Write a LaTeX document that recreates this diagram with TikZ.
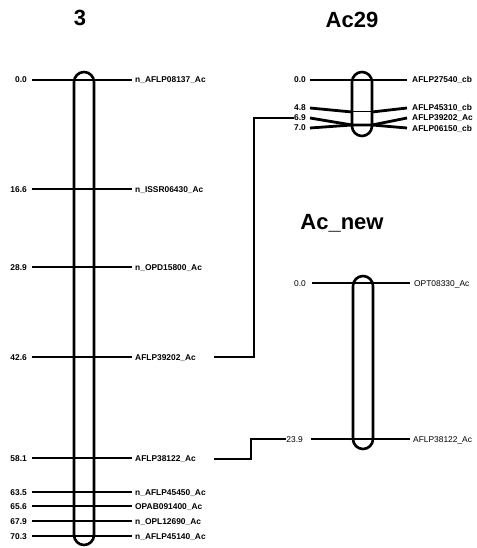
\documentclass[tikz,border=0pt]{standalone}
\usepackage{fontspec}
\setmainfont{Liberation Sans}
\usetikzlibrary{calc}
\begin{document}
\begin{tikzpicture}[x=1pt,y=-1pt,
  chrom/.style={line width=2.6pt,rounded corners=10pt},
  mline/.style={line width=2.8pt},
  conn/.style={line width=2.1pt},
  lbl/.style={inner sep=0pt,text height=6pt,text depth=0pt,font=\fontsize{8.4}{9}\selectfont\bfseries},
  lbln/.style={inner sep=0pt,text height=6pt,text depth=0pt,font=\fontsize{8.4}{9}\selectfont},
  poslbl/.style={lbl,anchor=east},
  mklbl/.style={lbl,anchor=west},
  poslbln/.style={lbln,anchor=east},
  mklbln/.style={lbln,anchor=west},
  ttl/.style={inner sep=0pt,text height=15.8pt,text depth=0pt,font=\fontsize{22}{24}\selectfont\bfseries}]
\useasboundingbox (0,0) rectangle (476,548);

% titles
\node[ttl] (t3) at (80,18) {3};
\node[ttl] (t29) at (352,20) {Ac29};
\node[ttl] (tnew) at (342,222) {Ac\_new};

% ---------------- chromosome 3 ----------------
\draw[chrom] (74,72) rectangle (94,545);
\foreach \n/\y/\p/\m in {a/80/0.0/n\_AFLP08137\_Ac, b/189/16.6/n\_ISSR06430\_Ac, c/267/28.9/n\_OPD15800\_Ac, d/357/42.6/AFLP39202\_Ac, e/458/58.1/AFLP38122\_Ac, f/492/63.5/n\_AFLP45450\_Ac, g/506/65.6/OPAB091400\_Ac, h/521/67.9/n\_OPL12690\_Ac, i/536/70.3/n\_AFLP45140\_Ac}{
  \node[poslbl] (p3\n) at (27,\y) {\p};
  \node[mklbl] (m3\n) at (135,\y) {\m};
  \coordinate (l3\n) at (32,\y);
  \coordinate (r3\n) at (132,\y);
  \draw[mline] (l3\n) -- (r3\n);
}

% ---------------- Ac29 ----------------
\draw[chrom] (352,72) rectangle (372,136);
\node[poslbl] (pA0) at (306,80) {0.0};
\node[poslbl] (pA1) at (306,108) {4.8};
\node[poslbl] (pA2) at (306,118) {6.9};
\node[poslbl] (pA3) at (306,128) {7.0};
\node[mklbl] (mA0) at (412,80) {AFLP27540\_cb};
\node[mklbl] (mA1) at (412,108) {AFLP45310\_cb};
\node[mklbl] (mA2) at (412,118) {AFLP39202\_Ac};
\node[mklbl] (mA3) at (412,129) {AFLP06150\_cb};
\coordinate (aL0) at (310,80);  \coordinate (aR0) at (407,80);
\coordinate (aL1) at (310,108); \coordinate (aR1) at (407,108);
\coordinate (aL2) at (310,118); \coordinate (aR2) at (407,118);
\coordinate (aL3) at (310,128); \coordinate (aR3) at (407,128);
\coordinate (cA1l) at (352,112); \coordinate (cA1r) at (372,112);
\coordinate (cA2l) at (352,125); \coordinate (cA2r) at (372,125);
\draw[mline] (aL0) -- (aR0);
\draw[mline] (aL1) -- (cA1l);
\draw[line width=1pt] (cA1l) -- (cA1r);
\draw[mline] (cA1r) -- (aR1);
\draw[mline] (aL2) -- (cA2l) -- (cA2r) -- (aR2);
\draw[mline] (aL3) -- (cA2l);
\draw[mline] (cA2r) -- (aR3);

% ---------------- Ac_new ----------------
\draw[chrom] (353,276) rectangle (373,449);
\node[poslbln] (pN0) at (306,283) {0.0};
\node[poslbln] (pN1) at (303,439) {23.9};
\node[mklbln] (mN0) at (414,283) {OPT08330\_Ac};
\node[mklbln] (mN1) at (413,439) {AFLP38122\_Ac};
\coordinate (nL0) at (312,283); \coordinate (nR0) at (410,283);
\coordinate (nL1) at (311,439); \coordinate (nR1) at (410,439);
\draw[mline] (nL0) -- (nR0);
\draw[mline] (nL1) -- (nR1);

% ---------------- connectors ----------------
\coordinate (s1) at (214,357);
\coordinate (s2) at (214,459);
\draw[conn] (s1) -- (254,357) -- (254,118) -- (pA2.west);
\draw[conn] (s2) -- (251,459) -- (251,439) -- (pN1.west);
\end{tikzpicture}
\end{document}
